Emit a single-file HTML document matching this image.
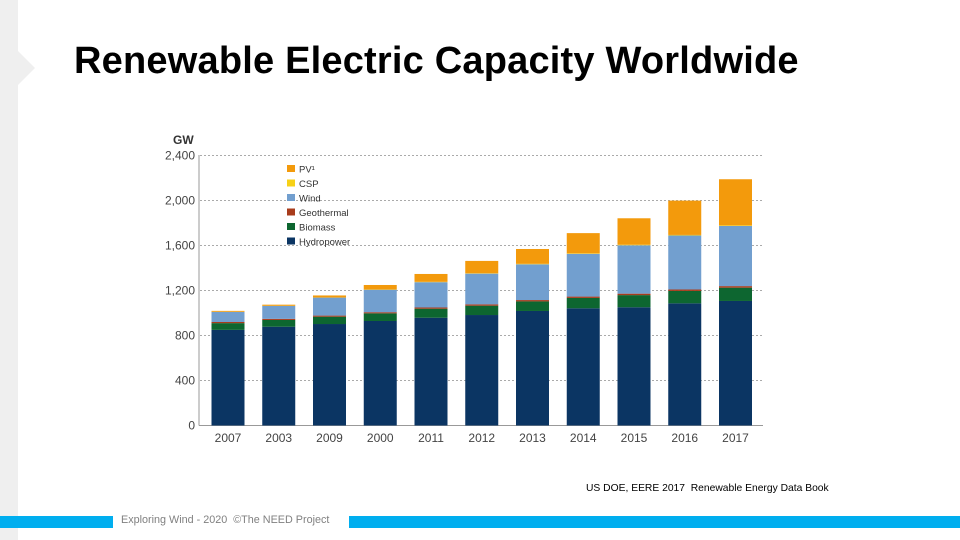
<!DOCTYPE html>
<html><head><meta charset="utf-8"><style>
body{margin:0;width:960px;height:540px;overflow:hidden;background:#fff;font-family:"Liberation Sans",sans-serif;position:relative}
</style></head><body>
<div style="position:absolute;left:0;top:0;width:18px;height:540px;background:#efefef"></div>
<div style="position:absolute;left:18px;top:51px;width:0;height:0;border-top:17px solid transparent;border-bottom:17px solid transparent;border-left:17px solid #efefef"></div>
<div style="position:absolute;left:74px;top:40px;font-size:38px;letter-spacing:0.2px;font-weight:bold;color:#000;white-space:nowrap">Renewable Electric Capacity Worldwide</div>
<div style="position:absolute;left:586px;top:483px;font-size:10.3px;color:#000;white-space:nowrap">US DOE, EERE 2017&nbsp; Renewable Energy Data Book</div>
<div style="position:absolute;left:0;top:516px;width:113px;height:12px;background:#00aeef"></div>
<div style="position:absolute;left:349px;top:516px;width:611px;height:12px;background:#00aeef"></div>
<div style="position:absolute;left:121px;top:514px;font-size:10.8px;color:#808080;white-space:nowrap">Exploring Wind - 2020&nbsp; ©The NEED Project</div>
<svg id="chart" width="960" height="540" style="position:absolute;left:0;top:0"></svg>
<script>
const years=["2007","2003","2009","2000","2011","2012","2013","2014","2015","2016","2017"];
const hydro=[850,878,902,929,958,982,1018,1042,1051,1086,1107];
const biomass=[60,60,65,68,80,83,85,92,108,110,118];
const geothermal=[10,10,10,10,11,12,12,12,13,13,14];
const wind=[90,115,160,200,225,273,318,380,430,480,535];
const csp=[1,1,1,2,3,3,4,4,5,5,5];
const pv=[8,10,18,40,70,110,132,180,235,305,410];
const yTicks=[0,400,800,1200,1600,2000,2400];
const yTickLabels=["0","400","800","1,200","1,600","2,000","2,400"];
const seriesNames=["PV¹","CSP","Wind","Geothermal","Biomass","Hydropower"];
const NS="http://www.w3.org/2000/svg";
const svg=document.getElementById('chart');
const y0=425.5,pxPer=270/2400;
function yS(v){return y0-v*pxPer;}
function xS(i){return 228+i*50.75;}
function mk(t,a,p){const e=document.createElementNS(NS,t);for(const k in a)e.setAttribute(k,a[k]);(p||svg).appendChild(e);return e;}
yTicks.forEach((v,i)=>{
  if(v>0){const g=mk('line',{x1:200,x2:763,y1:yS(v),y2:yS(v),stroke:'#aaa','stroke-width':1,'stroke-dasharray':'2,2'});
  
  }
  const t=mk('text',{x:195,y:yS(v)+4,'text-anchor':'end','font-size':12,fill:'#444'});
  t.textContent=yTickLabels[i];
  
  
});
const ax=mk('line',{x1:199,x2:199,y1:155,y2:y0,stroke:'#999','stroke-width':1});


const xa=mk('line',{x1:199,x2:763,y1:y0,y2:y0,stroke:'#999','stroke-width':1});


const gw=mk('text',{x:173,y:144,'font-size':12,'font-weight':'bold',fill:'#333'});
gw.textContent='GW';


const stack=[["hydro",hydro,'#0b3563'],["biomass",biomass,'#0d6630'],["geothermal",geothermal,'#a83c1c'],["wind",wind,'#729fcf'],["csp",csp,'#f7d117'],["pv",pv,'#f39a0c']];
years.forEach((yr,i)=>{
  let base=0;
  stack.forEach(s=>{
    const v=s[1][i];
    const r=mk('rect',{x:xS(i)-16.5,width:33,y:yS(base+v),height:v*pxPer,fill:s[2]});
    
    
    base+=v;
  });
  const t=mk('text',{x:xS(i),y:442,'text-anchor':'middle','font-size':12,fill:'#444'});
  t.textContent=yr;
  
  
});
const legColors=['#f39a0c','#f7d117','#729fcf','#a83c1c','#0d6630','#0b3563'];
seriesNames.forEach((n,i)=>{
  const yy=170+i*14.5;
  const r=mk('rect',{x:287,y:yy-5,width:8,height:7,fill:legColors[i]});
  
  
  const t=mk('text',{x:299,y:yy+2.5,'font-size':9.5,fill:'#333'});
  t.textContent=n;
  
  
});
</script>
</body></html>
